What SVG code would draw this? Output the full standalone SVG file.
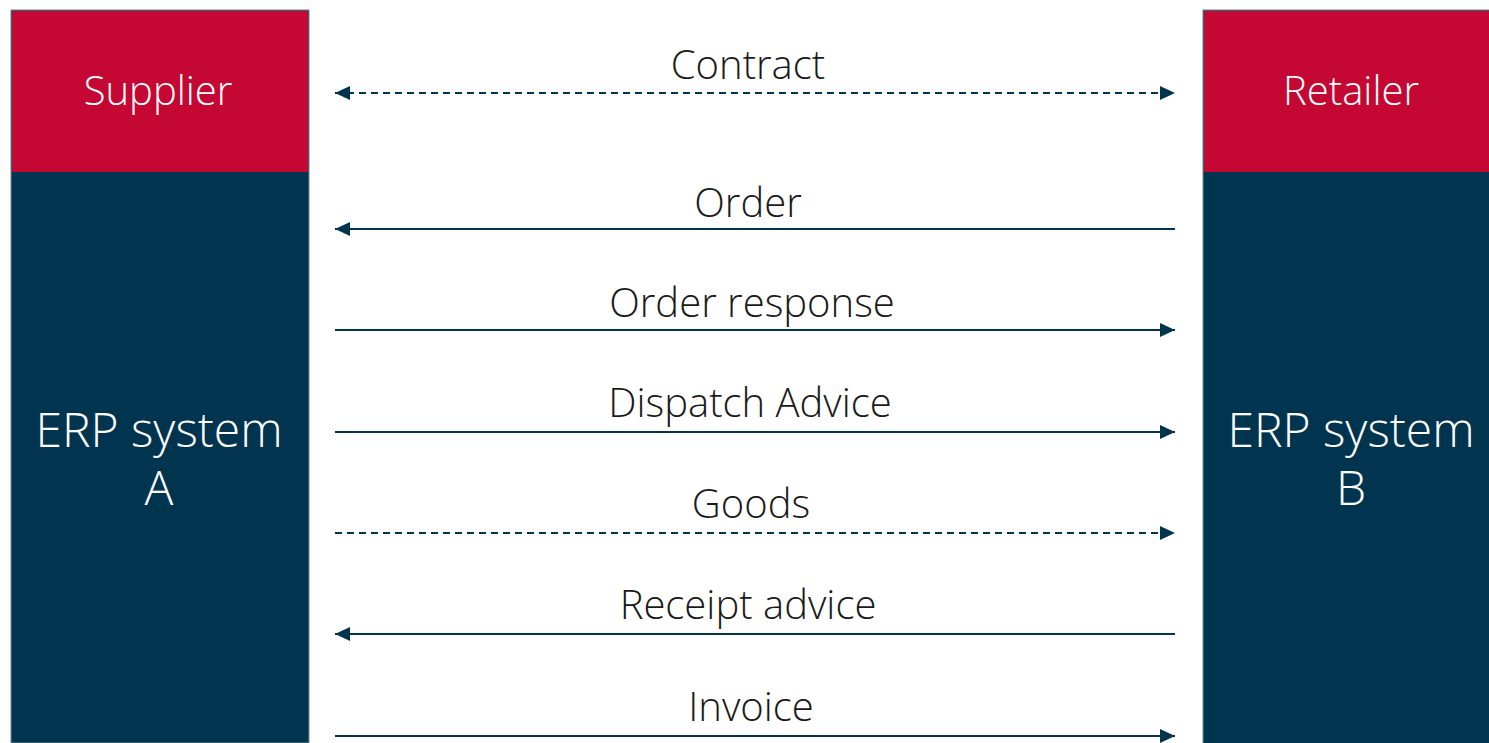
<svg xmlns="http://www.w3.org/2000/svg" width="1489" height="743" viewBox="0 0 1489 743">
<style>
.red{fill:#C40833}
.navy{fill:#00344F}
.wt{fill:#fff;font-family:"Open Sans",sans-serif;font-weight:300;text-anchor:middle}
.lbl{fill:#1a1a1a;font-family:"Open Sans",sans-serif;font-weight:300;font-size:40px;text-anchor:middle}
.ln{stroke:#00344F;stroke-width:2.2;fill:none}
.dash{stroke-dasharray:7 5}
</style>
<defs>
<marker id="ah" viewBox="0 0 15 14" refX="15" refY="7" markerWidth="15" markerHeight="14" markerUnits="userSpaceOnUse" orient="auto-start-reverse">
<path d="M0,0 L15,7 L0,14 Z" fill="#00344F"/>
</marker>
</defs>
<rect width="1489" height="743" fill="#fff"/>
<g id="supplier">
<rect x="11" y="10" width="298" height="733" class="navy" stroke="#6e8a99" stroke-width="1"/>
<rect x="12" y="11" width="296" height="161" class="red"/>
<text x="158" y="105" class="wt" font-size="40">Supplier</text>
<text class="wt" font-size="48"><tspan x="159" y="447">ERP system</tspan><tspan x="159" y="505">A</tspan></text>
</g>
<g id="retailer">
<rect x="1203" y="10" width="290" height="737" class="navy" stroke="#6e8a99" stroke-width="1"/>
<rect x="1204" y="11" width="290" height="161" class="red"/>
<text x="1351" y="105" class="wt" font-size="40">Retailer</text>
<text class="wt" font-size="48"><tspan x="1351" y="447">ERP system</tspan><tspan x="1351" y="505">B</tspan></text>
</g>
<g id="connectors">
<line x1="335" y1="93" x2="1175" y2="93" class="ln dash" marker-start="url(#ah)" marker-end="url(#ah)"/>
<text x="748" y="79" class="lbl">Contract</text>
<line x1="1175" y1="229" x2="335" y2="229" class="ln" marker-end="url(#ah)"/>
<text x="748" y="217" class="lbl">Order</text>
<line x1="335" y1="330" x2="1175" y2="330" class="ln" marker-end="url(#ah)"/>
<text x="752" y="317" class="lbl">Order response</text>
<line x1="335" y1="432" x2="1175" y2="432" class="ln" marker-end="url(#ah)"/>
<text x="750" y="417" class="lbl">Dispatch Advice</text>
<line x1="335" y1="533" x2="1175" y2="533" class="ln dash" marker-end="url(#ah)"/>
<text x="751" y="518" class="lbl">Goods</text>
<line x1="1175" y1="634" x2="335" y2="634" class="ln" marker-end="url(#ah)"/>
<text x="748" y="619" class="lbl">Receipt advice</text>
<line x1="335" y1="736" x2="1175" y2="736" class="ln" marker-end="url(#ah)"/>
<text x="751" y="721" class="lbl">Invoice</text>
</g>
</svg>
